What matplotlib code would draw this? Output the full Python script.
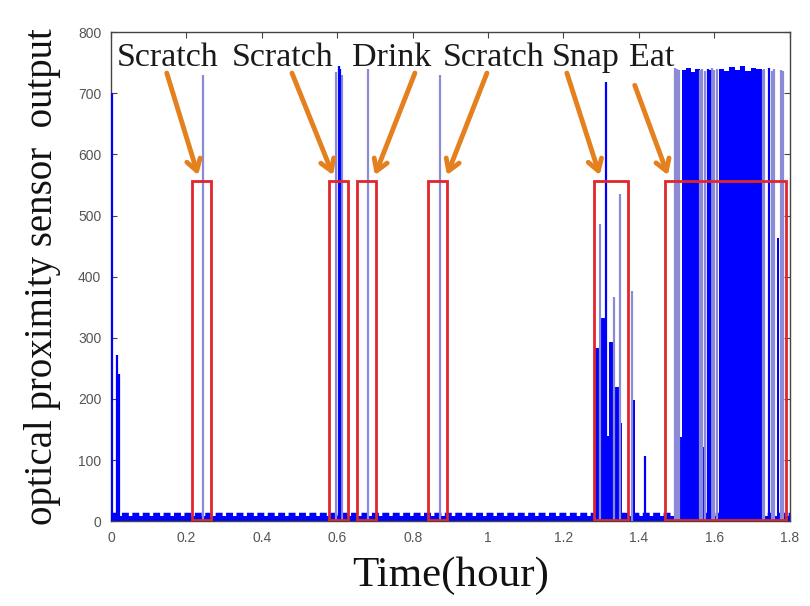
import numpy as np
import matplotlib
matplotlib.use("Agg")
import matplotlib.pyplot as plt
from matplotlib.patches import Rectangle

# ---- data ----
# thin (pale) spikes: time in hours, sensor value
thin_t = [0.245, 0.597, 0.612, 0.681, 0.872, 1.298, 1.335, 1.349, 1.381,
          1.495, 1.500, 1.506, 1.563, 1.568, 1.576, 1.594, 1.600, 1.606,
          1.729, 1.733, 1.752, 1.758, 1.776, 1.782]
thin_v = [730, 735, 730, 740, 730, 486, 366, 535, 377,
          742, 740, 738, 738, 740, 736, 742, 738, 740,
          738, 740, 736, 740, 738, 736]

# thin dark blue spikes
dark_t = [0.003, 0.015, 0.021, 0.604, 0.607, 1.314, 1.417, 1.584, 1.589, 1.745]
dark_v = [700, 272, 240, 745, 740, 718, 106, 740, 738, 742]

# dense bursts drawn as solid blocks: start, end, top value
block_t0 = [1.284, 1.299, 1.312, 1.320, 1.330, 1.336, 1.348, 1.378, 1.384,
            1.506, 1.513, 1.525, 1.537, 1.549, 1.570,
            1.612, 1.626, 1.640, 1.654, 1.668, 1.682, 1.696, 1.710, 1.765]
block_t1 = [1.299, 1.312, 1.320, 1.330, 1.336, 1.348, 1.356, 1.384, 1.390,
            1.513, 1.525, 1.537, 1.549, 1.561, 1.574,
            1.626, 1.640, 1.654, 1.668, 1.682, 1.696, 1.710, 1.726, 1.771]
block_v = [283, 333, 140, 293, 160, 220, 161, 275, 198,
           138, 738, 742, 735, 740, 122,
           740, 736, 743, 738, 745, 737, 741, 739, 463]

base_low, base_high = 8, 12

# labelled events: red boxes and arrows
rect_t0 = [0.215, 0.578, 0.652, 0.840, 1.280, 1.469]
rect_t1 = [0.265, 0.628, 0.703, 0.891, 1.371, 1.790]
rect_top = 557

labels = ["Scratch", "Scratch", "Drink", "Scratch", "Snap", "Eat"]
label_t = [0.149, 0.456, 0.744, 1.016, 1.258, 1.433]
arrow_from_t = [0.148, 0.480, 0.806, 0.997, 1.209, 1.389]
arrow_from_v = [733, 733, 733, 733, 733, 713]
arrow_to_t = [0.231, 0.589, 0.700, 0.891, 1.296, 1.477]
arrow_to_v = [566, 566, 566, 566, 566, 566]

xticks = [0, 0.2, 0.4, 0.6, 0.8, 1, 1.2, 1.4, 1.6, 1.8]
xtick_labels = ["0", "0.2", "0.4", "0.6", "0.8", "1", "1.2", "1.4", "1.6", "1.8"]
yticks = [0, 100, 200, 300, 400, 500, 600, 700, 800]

blue = "#0000ff"
pale = "#8a8ad6"
red = "#e0262b"
orange = "#e5801e"

fig = plt.figure(figsize=(8.1, 6.06), dpi=100)
ax = fig.add_axes([0.137, 0.140, 0.838, 0.807])

# baseline band
ax.fill_between([0, 1.8], 0, base_low, color=blue, lw=0, zorder=2)
ax.plot([0, 1.8], [base_high, base_high], color=blue, lw=2.5,
        dashes=(2, 1), zorder=2)

# bursts
widths = np.array(block_t1) - np.array(block_t0)
ax.bar(block_t0, block_v, width=widths, align="edge", color=blue,
       lw=0, zorder=2)

ax.vlines(thin_t, 0, thin_v, color=pale, lw=1.6, zorder=3)
ax.vlines(dark_t, 0, dark_v, color=blue, lw=1.6, zorder=3)

# red boxes
for t0, t1 in zip(rect_t0, rect_t1):
    ax.add_patch(Rectangle((t0, 2), t1 - t0, rect_top - 2, fill=False,
                           edgecolor=red, lw=2, zorder=4))

# arrows and event names
for i in range(len(labels)):
    ax.annotate("", xy=(arrow_to_t[i], arrow_to_v[i]),
                xytext=(arrow_from_t[i], arrow_from_v[i]),
                arrowprops=dict(arrowstyle="->,head_length=0.8,head_width=0.5",
                                color=orange, lw=3.5, shrinkA=0, shrinkB=0),
                zorder=5)
    ax.text(label_t[i], 744, labels[i], ha="center", va="baseline",
            fontsize=24.5, family="Liberation Serif", color="#1a1a1a", zorder=6)

ax.set_xlim(0, 1.8)
ax.set_ylim(0, 800)
ax.set_xticks(xticks)
ax.set_xticklabels(xtick_labels)
ax.set_yticks(yticks)
ax.tick_params(direction="in", top=True, right=True, length=4,
               labelsize=10, labelcolor="#555555", color="#444444", pad=7)
for lab in ax.get_xticklabels() + ax.get_yticklabels():
    lab.set_family("Liberation Sans")
for s in ax.spines.values():
    s.set_color("#444444")
    s.set_linewidth(1)

ax.set_xlabel("Time(hour)", fontsize=31, family="Liberation Serif",
              color="#111111", labelpad=8)
ax.set_ylabel("optical proximity sensor  output", fontsize=28,
              family="Liberation Serif", color="#111111", labelpad=12)

fig.savefig("out.png", dpi=100)
